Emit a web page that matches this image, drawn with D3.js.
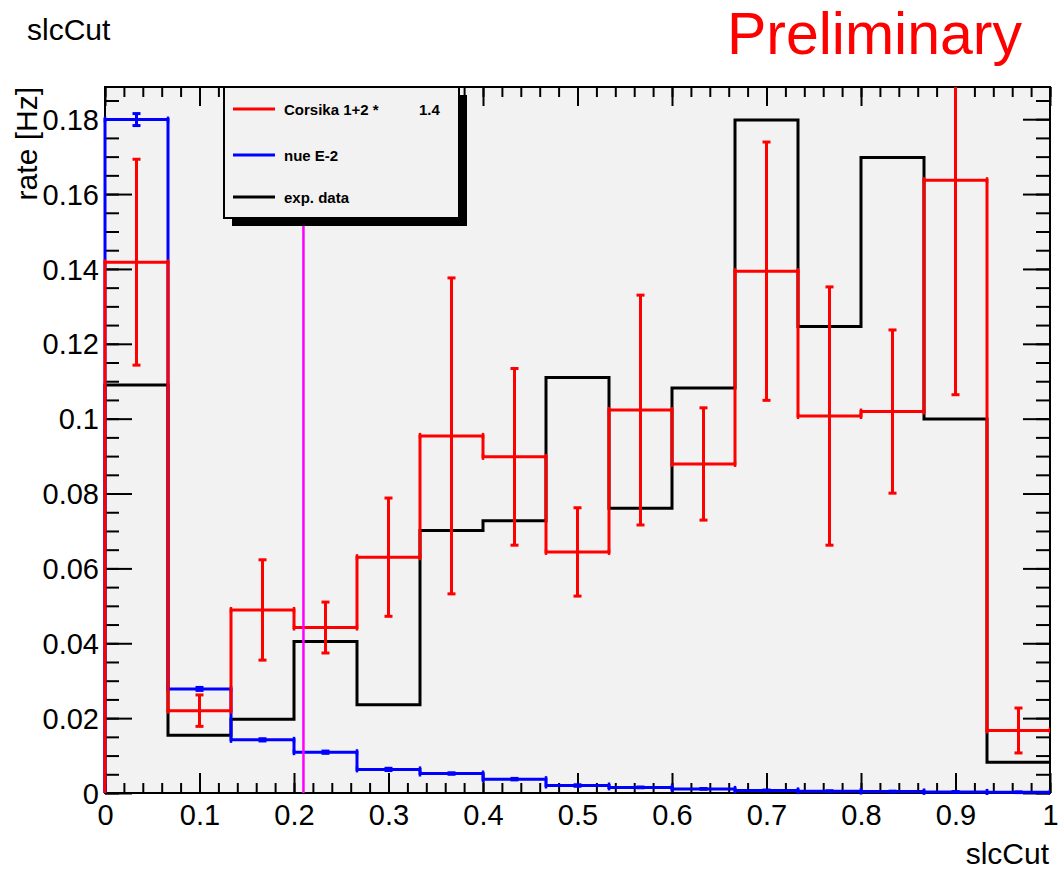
<!DOCTYPE html>
<html>
<head>
<meta charset="utf-8">
<script src="https://cdn.jsdelivr.net/npm/d3@7"></script>
<style>
  body { margin: 0; background: #fff; }
  svg { display: block; font-family: "Liberation Sans", Arial, Helvetica, sans-serif; }
</style>
</head>
<body>
<div id="chart"></div>
<script>
// bin edges of the slcCut histogram (15 bins on [0,1])
const binEdges = [0, 1/15, 2/15, 3/15, 4/15, 5/15, 6/15, 7/15, 8/15, 9/15, 10/15, 11/15, 12/15, 13/15, 14/15, 1];

// exp. data (black)
const expData = [0.1090, 0.0154, 0.0197, 0.0405, 0.0236, 0.0701, 0.0727, 0.1110, 0.0761, 0.1082, 0.1798, 0.1246, 0.1698, 0.0999, 0.0082];

// Corsika 1+2 * 1.4 (red) with errors
const corsika    = [0.1418, 0.0220, 0.0489, 0.0442, 0.0630, 0.0954, 0.0898, 0.0644, 0.1023, 0.0879, 0.1394, 0.1007, 0.1019, 0.1637, 0.0167];
const corsikaErr = [0.0275, 0.0042, 0.0134, 0.0068, 0.0158, 0.0422, 0.0236, 0.0118, 0.0307, 0.0150, 0.0345, 0.0345, 0.0218, 0.0573, 0.0060];

// nue E-2 (blue) with errors
const nue    = [0.1799, 0.0278, 0.0142, 0.0109, 0.0063, 0.0052, 0.0037, 0.0020, 0.0015, 0.0011, 0.0007, 0.0005, 0.0004, 0.0003, 0.0002];
const nueErr = [0.0016, 0.0004, 0.0003, 0.0003, 0.0003, 0.0002, 0.0002, 0.0002, 0.0001, 0.0001, 0.0001, 0.0001, 0.0001, 0.0001, 0.0001];

const cutValue = 0.21;

const xTicks = [0, 0.1, 0.2, 0.3, 0.4, 0.5, 0.6, 0.7, 0.8, 0.9, 1];
const xTickLabels = ["0", "0.1", "0.2", "0.3", "0.4", "0.5", "0.6", "0.7", "0.8", "0.9", "1"];
const yTicks = [0, 0.02, 0.04, 0.06, 0.08, 0.1, 0.12, 0.14, 0.16, 0.18];
const yTickLabels = ["0", "0.02", "0.04", "0.06", "0.08", "0.1", "0.12", "0.14", "0.16", "0.18"];

const legendNames = ["Corsika 1+2 *", "nue E-2", "exp. data"];
const legendColors = ["#ff0000", "#0000ff", "#000000"];

var width = 1060, height = 874;
const frame = {left: 105, right: 1050, top: 87, bottom: 793};

const x = d3.scaleLinear().domain([0, 1]).range([frame.left, frame.right]);
const y = d3.scaleLinear().domain([0, 0.1886]).range([frame.bottom, frame.top]);

const svg = d3.select('#chart').append('svg')
    .attr('width', width)
    .attr('height', height);

svg.append('rect').attr('width', width).attr('height', height).attr('fill', '#fff');

// clip to the frame (a bit wider on the left so the first edge shows fully)
svg.append('defs').append('clipPath').attr('id', 'clip')
  .append('rect')
    .attr('x', frame.left - 2).attr('y', frame.top)
    .attr('width', frame.right - frame.left + 2).attr('height', frame.bottom - frame.top + 2);

// frame background
svg.append('rect')
    .attr('x', frame.left).attr('y', frame.top)
    .attr('width', frame.right - frame.left).attr('height', frame.bottom - frame.top)
    .attr('fill', '#f2f2f2');

// axes (ticks inside the frame, like ROOT)
const xMinor = d3.range(0, 1.0001, 0.02);
const yMinor = d3.range(0, 0.1886, 0.005);

function styleAxis(g) {
  g.select('.domain').remove();
  g.selectAll('.tick line').attr('stroke', '#000').attr('stroke-width', 2);
}

svg.append('g').attr('transform', `translate(0,${frame.bottom})`)
  .call(d3.axisBottom(x).tickValues(xMinor).tickSize(-10).tickFormat(''))
  .call(styleAxis);
svg.append('g').attr('transform', `translate(0,${frame.top})`)
  .call(d3.axisTop(x).tickValues(xMinor).tickSize(-10).tickFormat(''))
  .call(styleAxis);
svg.append('g').attr('transform', `translate(0,${frame.top})`)
  .call(d3.axisTop(x).tickValues(xTicks).tickSize(-19).tickFormat(''))
  .call(styleAxis);
svg.append('g').attr('transform', `translate(${frame.left},0)`)
  .call(d3.axisLeft(y).tickValues(yMinor).tickSize(-14).tickFormat(''))
  .call(styleAxis);
svg.append('g').attr('transform', `translate(${frame.right},0)`)
  .call(d3.axisRight(y).tickValues(yMinor).tickSize(-14).tickFormat(''))
  .call(styleAxis);
svg.append('g').attr('transform', `translate(${frame.right},0)`)
  .call(d3.axisRight(y).tickValues(yTicks).tickSize(-27).tickFormat(''))
  .call(styleAxis);

const xAxis = svg.append('g').attr('transform', `translate(0,${frame.bottom})`)
  .call(d3.axisBottom(x).tickValues(xTicks).tickSize(-20)
        .tickFormat((d, i) => xTickLabels[i]))
  .call(styleAxis);
xAxis.selectAll('text')
    .attr('y', 32).attr('dy', 0)
    .attr('fill', '#000').style('font-size', '29px');

const yAxis = svg.append('g').attr('transform', `translate(${frame.left},0)`)
  .call(d3.axisLeft(y).tickValues(yTicks).tickSize(-27)
        .tickFormat((d, i) => yTickLabels[i]))
  .call(styleAxis);
yAxis.selectAll('text')
    .attr('x', -6).attr('dy', '0.35em')
    .attr('fill', '#000').style('font-size', '29px');

svg.append('rect')
    .attr('x', frame.left).attr('y', frame.top)
    .attr('width', frame.right - frame.left).attr('height', frame.bottom - frame.top)
    .attr('fill', 'none').attr('stroke', '#000').attr('stroke-width', 2);

// histograms
const plot = svg.append('g').attr('clip-path', 'url(#clip)');

function stepPoints(vals) {
  var pts = [[binEdges[0], 0]];
  vals.forEach(function(v, i) {
    pts.push([binEdges[i], v]);
    pts.push([binEdges[i + 1], v]);
  });
  return pts;
}

const line = d3.line().x(d => x(d[0])).y(d => y(d[1]));

function drawHist(vals, color) {
  plot.append('path')
    .attr('d', line(stepPoints(vals)))
    .attr('fill', 'none')
    .attr('stroke', color)
    .attr('stroke-width', 3)
    .attr('stroke-linejoin', 'miter');
}

function drawErrors(vals, errs, color) {
  var g = plot.append('g').attr('stroke', color).attr('fill', 'none');
  vals.forEach(function(v, i) {
    var xc = x((binEdges[i] + binEdges[i + 1]) / 2);
    var x0 = x(binEdges[i]), x1 = x(binEdges[i + 1]);
    // vertical error bar
    g.append('line').attr('x1', xc).attr('x2', xc)
      .attr('y1', y(v - errs[i])).attr('y2', y(v + errs[i]))
      .attr('stroke-width', 3);
    // caps
    [v - errs[i], v + errs[i]].forEach(function(e) {
      g.append('line').attr('x1', xc - 4).attr('x2', xc + 4)
        .attr('y1', y(e)).attr('y2', y(e)).attr('stroke-width', 3);
    });
    // end marks of the horizontal bar
    [x0, x1].forEach(function(xe) {
      g.append('line').attr('x1', xe).attr('x2', xe)
        .attr('y1', y(v) - 3).attr('y2', y(v) + 3).attr('stroke-width', 2.5);
    });
  });
}

drawHist(expData, '#000');
drawHist(nue, '#0000ff');
drawErrors(nue, nueErr, '#0000ff');
drawHist(corsika, '#ff0000');
drawErrors(corsika, corsikaErr, '#ff0000');

// cut line
plot.append('line')
    .attr('x1', x(cutValue)).attr('x2', x(cutValue))
    .attr('y1', y(0)).attr('y2', frame.top)
    .attr('stroke', '#ff00ff').attr('stroke-width', 2.5);

// legend
const lg = svg.append('g');
lg.append('rect')
    .attr('x', 232).attr('y', 95).attr('width', 235).attr('height', 131)
    .attr('fill', '#000');
lg.append('rect')
    .attr('x', 224).attr('y', 87).attr('width', 235).attr('height', 131)
    .attr('fill', '#f2f2f2').attr('stroke', '#000').attr('stroke-width', 2);

const legendRows = [109, 155, 197];
legendNames.forEach(function(name, i) {
  lg.append('line')
    .attr('x1', 233).attr('x2', 275)
    .attr('y1', legendRows[i]).attr('y2', legendRows[i])
    .attr('stroke', legendColors[i]).attr('stroke-width', 3);
  lg.append('text')
    .attr('x', 284).attr('y', legendRows[i] + 6)
    .style('font-size', '15px').style('font-weight', 'bold')
    .text(name);
});
lg.append('text')
    .attr('x', 419).attr('y', legendRows[0] + 6)
    .style('font-size', '15px').style('font-weight', 'bold')
    .text('1.4');

// titles
svg.append('text').attr('x', 27).attr('y', 40)
    .style('font-size', '30px').text('slcCut');

svg.append('text').attr('x', 1022).attr('y', 54)
    .attr('text-anchor', 'end').attr('fill', '#ff0000')
    .style('font-size', '59px').text('Preliminary');

svg.append('text').attr('x', 1049).attr('y', 864)
    .attr('text-anchor', 'end')
    .style('font-size', '30px').text('slcCut');

svg.append('text')
    .attr('transform', 'translate(37,87) rotate(-90)')
    .attr('text-anchor', 'end')
    .style('font-size', '30px').text('rate [Hz]');
</script>
</body>
</html>
